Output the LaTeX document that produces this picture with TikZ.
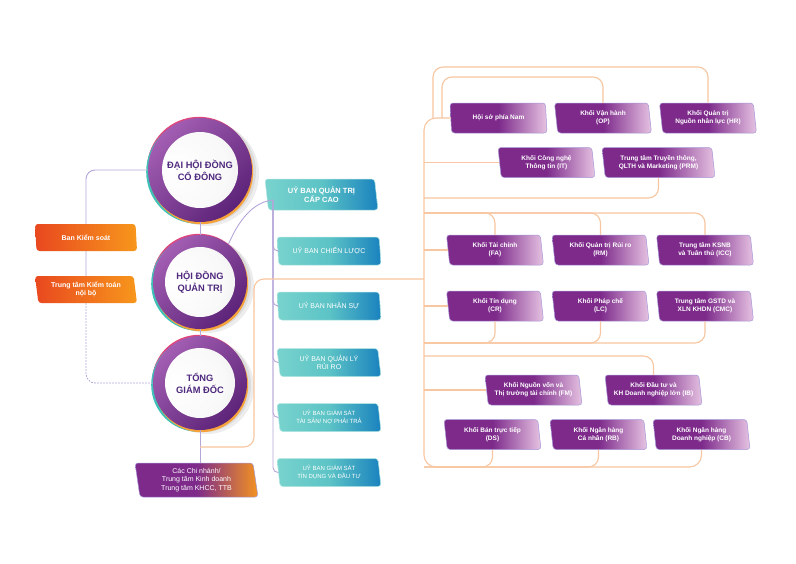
\documentclass[tikz,border=0pt]{standalone}
\usepackage{fontspec}
\setmainfont{Liberation Sans}
\usepackage{tikz}
\usetikzlibrary{shapes.geometric}

\definecolor{orbtext}{HTML}{4F2A7E}
\definecolor{ringA}{HTML}{A25EB2}
\definecolor{ringB}{HTML}{5C2378}
\definecolor{accTeal}{HTML}{3FC1B8}
\definecolor{accOra}{HTML}{F6A23A}
\definecolor{accMag}{HTML}{E0457B}
\definecolor{plum}{HTML}{7D2A8B}
\definecolor{lilac}{HTML}{E6C3E2}
\definecolor{plumedge}{HTML}{A597D6}
\definecolor{tealA}{HTML}{78D3CD}
\definecolor{tealB}{HTML}{5CC3C6}
\definecolor{tealC}{HTML}{1A82BE}
\definecolor{flameA}{HTML}{E9481F}
\definecolor{flameB}{HTML}{F7971C}
\definecolor{ochre}{HTML}{F39321}
\definecolor{lavline}{HTML}{B5A6DA}
\definecolor{peach}{HTML}{F8C6A0}

\pgfdeclareradialshading{orbball}{\pgfpoint{-10bp}{10bp}}{color(0bp)=(white); color(22bp)=(white!95!gray); color(45bp)=(white!75!gray); color(62bp)=(white!58!gray)}

\tikzset{
  orb/.style 2 args={circle, minimum size=#1, inner sep=0pt, align=center,
    text=orbtext, font=\bfseries\fontsize{9.3}{12}\selectfont,
    preaction={fill=black, opacity=0.07, transform canvas={shift={(7pt,-4pt)}}},
    preaction={fill=black, opacity=0.07, transform canvas={shift={(4pt,-2pt)}}},
    preaction={fill=accMag, transform canvas={shift={(-1pt,1.2pt)}}},
    preaction={fill=accTeal, transform canvas={shift={(-1.8pt,-1.8pt)}}},
    preaction={fill=accOra, transform canvas={shift={(1.2pt,-2.2pt)}}},
    top color=ringA, bottom color=ringB, shading angle=45,
    path picture={\shade[shading=orbball] (path picture bounding box.center) circle (#2);}},
  tag/.style={trapezium, trapezium left angle=101, trapezium right angle=79,
    trapezium stretches body, rounded corners=3pt, inner sep=1pt,
    align=center, text=white},
  unit/.style={tag, minimum width=97pt, minimum height=30pt,
    font=\bfseries\fontsize{6.5}{8.2}\selectfont,
    left color=plum, right color=lilac, middle color=plum,
    draw=plumedge, line width=0.5pt},
  board/.style={tag, minimum width=104pt, minimum height=28pt,
    font=\fontsize{7}{8.5}\selectfont,
    left color=tealA, right color=tealC, middle color=tealB,
    draw=tealA!60!white, line width=0.5pt},
  audit/.style={tag, minimum width=102pt, minimum height=27pt,
    font=\bfseries\fontsize{7}{8.5}\selectfont,
    left color=flameA, right color=flameB},
  branch/.style={tag, minimum width=123pt, minimum height=34pt,
    font=\fontsize{7}{8.5}\selectfont,
    left color=plum, right color=ochre, middle color=plum,
    draw=plumedge, line width=0.5pt},
  purpleline/.style={draw=lavline, line width=0.9pt},
  orangeline/.style={draw=peach, line width=1.1pt}
}

\begin{document}
\begin{tikzpicture}[x=1pt, y=-1pt]
    \fill[white] (0,0) rectangle (796,563);
    \useasboundingbox (0,0) rectangle (796,563);

    % the three circles
    \node[orb={104pt}{38pt}] (dhd) at (200,170) {ĐẠI HỘI ĐỒNG\\CỔ ĐÔNG};
    \node[orb={94pt}{35pt}] (hdqt) at (200,282) {HỘI ĐỒNG\\QUẢN TRỊ};
    \node[orb={94pt}{35pt}] (tgd) at (200,383) {TỔNG\\GIÁM ĐỐC};

    \node[audit] (bks) at (86,237.5) {Ban Kiểm soát};
    \node[audit] (ktnb) at (86,289.5) {Trung tâm Kiểm toán\\nội bộ};
    \node[branch] (cn) at (196.5,480) {Các Chi nhánh/\\Trung tâm Kinh doanh\\Trung tâm KHCC, TTB};

    % committees
    \node[board, minimum width=113pt, minimum height=31pt,
          font=\bfseries\fontsize{7.5}{9}\selectfont] (uqt) at (321.5,194.5) {UỶ BAN QUẢN TRỊ\\CẤP CAO};
    \node[board] (ucl) at (329,251) {UỶ BAN CHIẾN LƯỢC};
    \node[board] (uns) at (329,306) {UỶ BAN NHÂN SỰ};
    \node[board] (uql) at (329,362.5) {UỶ BAN QUẢN LÝ\\RỦI RO};
    \node[board, font=\fontsize{6}{7.5}\selectfont] (uts) at (329,417.5) {UỶ BAN GIÁM SÁT\\TÀI SẢN/ NỢ PHẢI TRẢ};
    \node[board, font=\fontsize{6}{7.5}\selectfont] (utd) at (329,472.5) {UỶ BAN GIÁM SÁT\\TÍN DỤNG VÀ ĐẦU TƯ};

    % divisions
    \node[unit] (hsn) at (498.5,118) {Hội sở phía Nam};
    \node[unit] (op) at (603,118) {Khối Vận hành\\(OP)};
    \node[unit] (hr) at (708,118) {Khối Quản trị\\Nguồn nhân lực (HR)};
    \node[unit] (it) at (546.5,162.5) {Khối Công nghệ\\Thông tin (IT)};
    \node[unit, minimum width=113pt] (prm) at (658.5,162.5) {Trung tâm Truyền thông,\\QLTH và Marketing (PRM)};
    \node[unit] (fa) at (495,250) {Khối Tài chính\\(FA)};
    \node[unit] (rm) at (600.5,250) {Khối Quản trị Rủi ro\\(RM)};
    \node[unit] (icc) at (705,250) {Trung tâm KSNB\\và Tuân thủ (ICC)};
    \node[unit] (cr) at (495,306) {Khối Tín dụng\\(CR)};
    \node[unit] (lc) at (600.5,306) {Khối Pháp chế\\(LC)};
    \node[unit] (cmc) at (705,306) {Trung tâm GSTD và\\XLN KHDN (CMC)};
    \node[unit] (fm) at (533.5,390) {Khối Nguồn vốn và\\Thị trường tài chính (FM)};
    \node[unit] (ib) at (653.5,390) {Khối Đầu tư và\\KH Doanh nghiệp lớn (IB)};
    \node[unit] (ds) at (492.5,434.5) {Khối Bán trực tiếp\\(DS)};
    \node[unit] (rb) at (598.5,434.5) {Khối Ngân hàng\\Cá nhân (RB)};
    \node[unit] (cb) at (701.5,434.5) {Khối Ngân hàng\\Doanh nghiệp (CB)};

    % purple links
    \draw[purpleline] (dhd.south) -- (hdqt.north);
    \draw[purpleline] (hdqt.south) -- (tgd.north);
    \draw[purpleline] (tgd.south) -- (tgd.south |- cn.north);
    \draw[purpleline, rounded corners=9] (dhd.west) -| (bks.north);
    \draw[purpleline] (bks.south) -- (ktnb.north);
    \draw[purpleline, dash pattern=on 1.6pt off 1.4pt, rounded corners=9] (ktnb.south) |- (tgd.west);

    \coordinate (ubus) at (273,200);
    \draw[purpleline] (hdqt.53) .. controls (238,222) and (252,202) .. (ubus);
    \draw[purpleline, rounded corners=5] (ubus) |- (ucl.west);
    \draw[purpleline, rounded corners=5] (ubus) |- (uns.west);
    \draw[purpleline, rounded corners=5] (ubus) |- (uql.west);
    \draw[purpleline, rounded corners=5] (ubus) |- (uts.west);
    \draw[purpleline, rounded corners=5] (ubus) |- (utd.west);

    % orange links
    \coordinate (tgdlink) at (200,447);
    \coordinate (bustop) at (424,118);
    \coordinate (busbot) at (424,467);
    \coordinate (jtgd) at (424,279);
    \coordinate (jprm) at (424,198);
    \coordinate (jfa) at (424,213);
    \coordinate (jcr) at (424,343);
    \coordinate (jib) at (424,356);
    \coordinate (loopA) at (433,118);
    \coordinate (loopB) at (442,118);

    \draw[orangeline, rounded corners=10] (tgdlink) -| ([xshift=-170pt]jtgd) -- (jtgd);
    \draw[orangeline, rounded corners=12] (hsn.west) -- (bustop) -- (busbot) -| (cb.south);
    \draw[orangeline, rounded corners=10] (loopA) -- ++(0,-51) -| (hr.north);
    \draw[orangeline, rounded corners=10] (loopB) -- ++(0,-41) -| (op.north);
    \draw[orangeline] (it.west) -- (bustop |- it.west);
    \draw[orangeline, rounded corners=10] (prm.south) |- (jprm);
    \draw[orangeline, rounded corners=10] (jfa) -| (fa.north);
    \draw[orangeline, rounded corners=10] (jfa) -| (rm.north);
    \draw[orangeline, rounded corners=10] (jfa) -| (icc.north);
    \draw[orangeline] (fa.west) -- (bustop |- fa.west);
    \draw[orangeline] (cr.west) -- (bustop |- cr.west);
    \draw[orangeline, rounded corners=10] (cr.south) |- (jcr);
    \draw[orangeline, rounded corners=10] (lc.south) |- (jcr);
    \draw[orangeline, rounded corners=10] (cmc.south) |- (jcr);
    \draw[orangeline, rounded corners=10] (jib) -| (ib.north);
    \draw[orangeline] (fm.west) -- (bustop |- fm.west);
    \draw[orangeline, rounded corners=10] (ds.south) |- (busbot);
    \draw[orangeline, rounded corners=10] (rb.south) |- (busbot);
\end{tikzpicture}
\end{document}
